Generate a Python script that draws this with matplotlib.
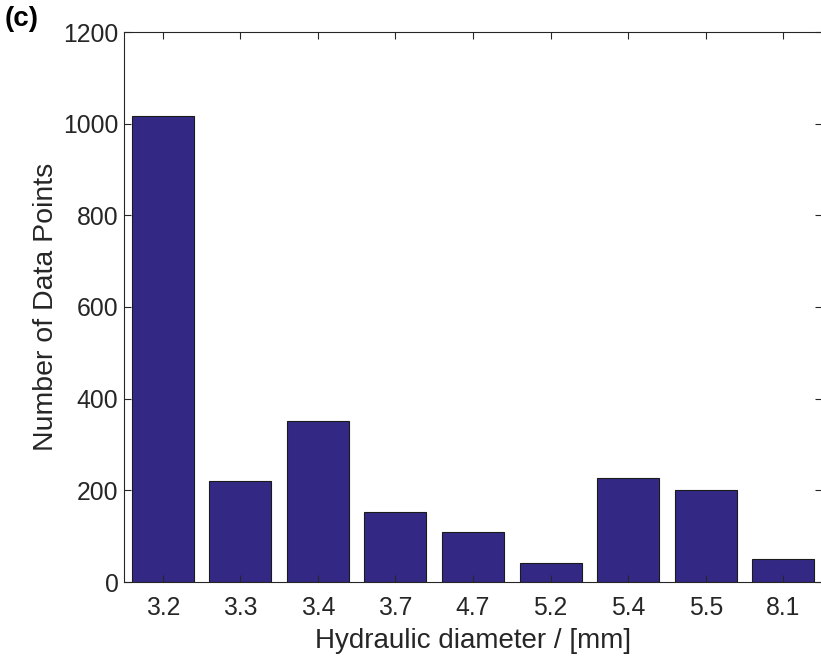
import matplotlib.pyplot as plt
import numpy as np

# hydraulic diameter classes and counts
diameters = ['3.2', '3.3', '3.4', '3.7', '4.7', '5.2', '5.4', '5.5', '8.1']
counts = [1017, 220, 351, 153, 110, 41, 227, 200, 51]
yticks = [0, 200, 400, 600, 800, 1000, 1200]

plt.rcParams['font.family'] = ['Liberation Sans', 'DejaVu Sans']

fig = plt.figure(figsize=(8.21, 6.61), dpi=100)
ax = fig.add_axes([124 / 821, 79 / 661, 698 / 821, 550 / 661])

pos = np.arange(1, len(diameters) + 1)
ax.bar(pos, counts, width=0.8, color='#332985', edgecolor='#1a1a1a', linewidth=0.8)

ax.set_xlim(0.5, 9.5)
ax.set_ylim(0, 1200)
ax.set_xticks(pos)
ax.set_xticklabels(diameters)
ax.set_yticks(yticks)

ax.tick_params(direction='in', top=True, right=True, length=5, width=0.8,
               labelsize=17.8, colors='#262626')
ax.tick_params(axis='x', pad=10)
ax.tick_params(axis='y', pad=4)
for s in ax.spines.values():
    s.set_color('#262626')
    s.set_linewidth(0.8)

ax.set_xlabel('Hydraulic diameter / [mm]', fontsize=20, color='#262626', labelpad=6)
ax.set_ylabel('Number of Data Points', fontsize=20.5, color='#262626', labelpad=3)

fig.text(5 / 821, 1 - 19 / 661, '(c)', fontsize=20, fontweight='bold', va='center', ha='left')

fig.savefig('out.png', dpi=100)
